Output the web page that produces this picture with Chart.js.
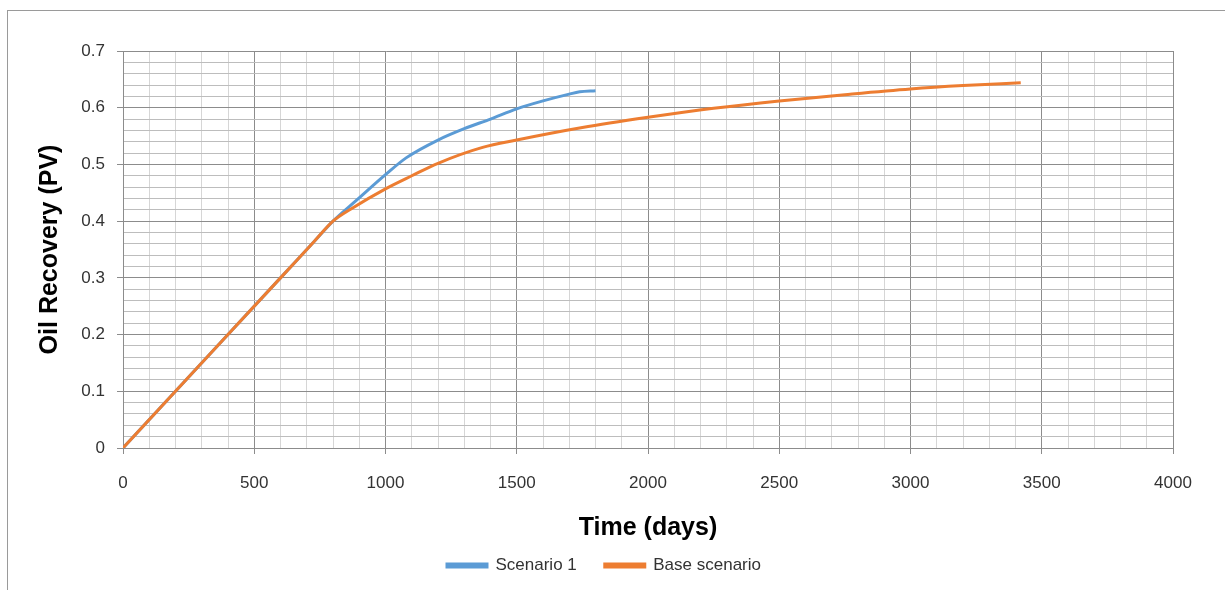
<!DOCTYPE html>
<html>
<head>
<meta charset="utf-8">
<script src="https://cdn.jsdelivr.net/npm/chart.js@4"></script>
<style>
    html, body { margin: 0; padding: 0; background: #fff; overflow: hidden; }
    #wrap { position: relative; width: 1225px; height: 590px; }
    #frame { position: absolute; left: 7px; top: 10px; width: 1300px; height: 700px;
             border-left: 1px solid #9a9a9a; border-top: 1px solid #9a9a9a; pointer-events: none; }
</style>
</head>
<body>
<div id="wrap">
    <canvas id="recoveryChart" width="1225" height="590"></canvas>
    <div id="frame"></div>
</div>
<script>
/* 油回収率グラフ - 値は元画像から読み取り */
const baseDays     = [0, 200, 400, 600, 730, 800, 870, 1000, 1100, 1200, 1370, 1500, 1750, 2000, 2250, 2500, 2750, 3000, 3200, 3420];
const baseRecovery = [0, 0.1, 0.2, 0.3, 0.365, 0.4, 0.422, 0.457, 0.48, 0.502, 0.53, 0.543, 0.565, 0.583, 0.599, 0.612, 0.623, 0.633, 0.639, 0.644];

const sc1Days     = [0, 200, 400, 600, 730, 800, 890, 1000, 1080, 1200, 1300, 1400, 1500, 1600, 1700, 1740, 1800];
const sc1Recovery = [0, 0.1, 0.2, 0.3, 0.365, 0.4, 0.437, 0.482, 0.512, 0.543, 0.563, 0.58, 0.598, 0.612, 0.624, 0.628, 0.63];

const seriesNames = ['Scenario 1', 'Base scenario'];
const seriesColors = ['#5b9bd5', '#ed7d31'];

const MAJOR = '#8c8c8c';
const MINOR_H = '#bdbdbd';
const MINOR_V = '#d6d6d6';
const FONT = 'Liberation Sans';

function toPoints(xs, ys) {
    return xs.map((x, i) => ({ x: x, y: ys[i] }));
}

function isMajorX(v) { return Math.round(v) % 500 === 0; }
function isMajorY(v) { return Math.round(v * 100) % 10 === 0; }

const ctx = document.getElementById('recoveryChart');

new Chart(ctx.getContext('2d'), {
    type: 'scatter',
    data: {
        datasets: [{
            label: seriesNames[0],
            data: toPoints(sc1Days, sc1Recovery),
            borderColor: seriesColors[0],
            backgroundColor: seriesColors[0],
            showLine: true,
            borderWidth: 3,
            pointRadius: 0,
            cubicInterpolationMode: 'monotone',
            order: 1   // オレンジ線を上に描く
        }, {
            label: seriesNames[1],
            data: toPoints(baseDays, baseRecovery),
            borderColor: seriesColors[1],
            backgroundColor: seriesColors[1],
            showLine: true,
            borderWidth: 3,
            pointRadius: 0,
            cubicInterpolationMode: 'monotone',
            order: 0
        }]
    },
    options: {
        responsive: false,
        animation: false,
        layout: { padding: { left: 35, right: 52, top: 51, bottom: 6 } },
        scales: {
            x: {
                type: 'linear',
                min: 0,
                max: 4000,
                ticks: {
                    stepSize: 100,
                    autoSkip: false,
                    maxRotation: 0,
                    padding: 19,
                    color: '#333',
                    font: { family: FONT, size: 17 },
                    callback: function (v) { return isMajorX(v) ? String(v) : ''; }
                },
                grid: {
                    color: function (c) { return isMajorX(c.tick.value) ? MAJOR : MINOR_V; },
                    tickColor: function (c) { return isMajorX(c.tick.value) ? MAJOR : 'rgba(0,0,0,0)'; },
                    tickLength: 6,
                    lineWidth: 1
                },
                border: { color: MAJOR },
                title: {
                    display: true,
                    text: 'Time (days)',
                    color: '#000',
                    font: { family: FONT, size: 25, weight: 'bold' },
                    padding: { top: 0, bottom: -14 }
                },
                afterFit: function (scale) { scale.height = 81; }
            },
            y: {
                type: 'linear',
                min: 0,
                max: 0.7,
                ticks: {
                    stepSize: 0.02,
                    autoSkip: false,
                    padding: 12,
                    color: '#333',
                    font: { family: FONT, size: 17 },
                    callback: function (v) { return isMajorY(v) ? String(Math.round(v * 10) / 10) : ''; }
                },
                grid: {
                    color: function (c) { return isMajorY(c.tick.value) ? MAJOR : MINOR_H; },
                    tickColor: function (c) { return isMajorY(c.tick.value) ? MAJOR : 'rgba(0,0,0,0)'; },
                    tickLength: 6,
                    lineWidth: 1
                },
                border: { color: MAJOR },
                title: {
                    display: true,
                    text: 'Oil Recovery (PV)',
                    color: '#000',
                    font: { family: FONT, size: 25, weight: 'bold' },
                    padding: { top: 0, bottom: 0 }
                },
                afterFit: function (scale) { scale.width = 88; }
            }
        },
        plugins: {
            legend: {
                position: 'bottom',
                labels: {
                    boxWidth: 40,
                    boxHeight: 3,
                    padding: 28,
                    color: '#333',
                    font: { family: FONT, size: 17 },
                    sort: function (a, b) { return a.datasetIndex - b.datasetIndex; }
                }
            },
            tooltip: { enabled: false }
        }
    }
});
</script>
</body>
</html>
